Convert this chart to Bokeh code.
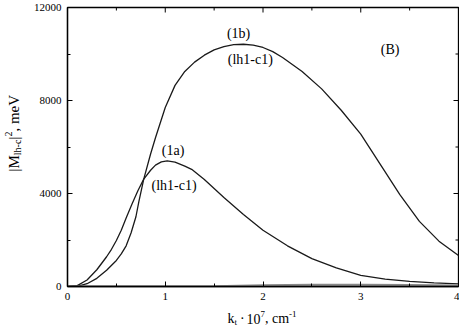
import math
from bokeh.plotting import figure
from bokeh.layouts import row, column
from bokeh.models import LinearAxis, Range1d, Label, FixedTicker
from bokeh.embed import file_html
from bokeh.resources import INLINE

# ---- data ----
x_1a = [0.0, 0.1, 0.2, 0.3, 0.4, 0.45, 0.5, 0.55, 0.6, 0.66, 0.72, 0.78, 0.85, 0.9, 0.96, 1.02, 1.1, 1.2, 1.27, 1.4, 1.6, 1.8, 2.0, 2.25, 2.5, 2.75, 3.0, 3.25, 3.5, 3.75, 4.0]
y_1a = [0, 40, 280, 720, 1280, 1600, 1980, 2420, 2950, 3550, 4120, 4620, 5000, 5220, 5360, 5400, 5350, 5180, 5040, 4600, 3830, 3100, 2420, 1750, 1200, 800, 480, 320, 220, 160, 110]

x_1b = [0.0, 0.1, 0.2, 0.3, 0.4, 0.5, 0.55, 0.6, 0.65, 0.7, 0.73, 0.78, 0.85, 0.9, 1.0, 1.1, 1.2, 1.3, 1.4, 1.5, 1.6, 1.7, 1.8, 1.9, 2.0, 2.1, 2.2, 2.4, 2.6, 2.8, 3.0, 3.2, 3.4, 3.6, 3.8, 4.0]
y_1b = [0, 10, 120, 350, 700, 1120, 1400, 1750, 2300, 3000, 3650, 4620, 5700, 6400, 7700, 8650, 9250, 9650, 9950, 10180, 10320, 10400, 10420, 10380, 10280, 10100, 9850, 9250, 8500, 7580, 6550, 5250, 3950, 2800, 1950, 1330]

x_c3 = [0.0, 1.0, 1.5, 2.0, 2.5, 3.0, 3.5, 4.0]
y_c3 = [0, 0, 10, 50, 80, 80, 60, 40]

x_ticks = [0, 1, 2, 3, 4]
x_minor = [0.5, 1.5, 2.5, 3.5]
y_ticks = [0, 4000, 8000, 12000]
y_minor = [2000, 6000, 10000]

FONT = "Liberation Serif"

YW = 30      # width of the y-title strip
MAIN_W = 429
MAIN_H = 308
XH = 20      # height of the x-title strip

p = figure(width=MAIN_W, height=MAIN_H, output_backend="svg", toolbar_location=None,
           x_range=Range1d(0, 4), y_range=Range1d(0, 12000),
           x_axis_type=None, y_axis_type=None,
           min_border_left=35, min_border_right=1, min_border_top=7, min_border_bottom=22)
p.grid.visible = False
p.outline_line_color = "black"
p.outline_line_width = 1.3
p.background_fill_color = "white"
p.border_fill_color = "white"


def style_axis(ax, ticks, minor):
    ax.ticker = FixedTicker(ticks=ticks, minor_ticks=minor)
    ax.axis_line_color = "black"
    ax.axis_line_width = 1.3
    ax.major_tick_in = 5
    ax.major_tick_out = 0
    ax.minor_tick_in = 3
    ax.minor_tick_out = 0
    ax.major_tick_line_color = "black"
    ax.minor_tick_line_color = "black"
    ax.major_label_text_font = FONT
    ax.major_label_text_font_size = "11px"
    ax.major_label_text_color = "black"
    ax.major_label_standoff = 6


xax = LinearAxis()
style_axis(xax, x_ticks, x_minor)
p.add_layout(xax, "below")
yax = LinearAxis()
style_axis(yax, y_ticks, y_minor)
p.add_layout(yax, "left")

# inner ticks on top and right edges (length in screen units)
p.ray(x=x_ticks, y=[12000] * len(x_ticks), length=5, length_units="screen",
      angle=-math.pi / 2, line_color="black", line_width=1)
p.ray(x=x_minor, y=[12000] * len(x_minor), length=3, length_units="screen",
      angle=-math.pi / 2, line_color="black", line_width=1)
p.ray(x=[4] * len(y_ticks), y=y_ticks, length=5, length_units="screen",
      angle=math.pi, line_color="black", line_width=1)
p.ray(x=[4] * len(y_minor), y=y_minor, length=3, length_units="screen",
      angle=math.pi, line_color="black", line_width=1)

p.line(x_1a, y_1a, line_color="#1a1a1a", line_width=1.3)
p.line(x_1b, y_1b, line_color="#1a1a1a", line_width=1.3)
p.line(x_c3, y_c3, line_color="#888888", line_width=2)

# curve annotations
for txt, xx, yy in [("(1b)", 1.75, 10886), ("(lh1-c1)", 1.87, 9771),
                    ("(1a)", 1.08, 5829), ("(lh1-c1)", 1.09, 4329), ("(B)", 3.30, 10200)]:
    p.add_layout(Label(x=xx, y=yy, text=txt, text_font=FONT, text_font_size="14px",
                       text_align="center", text_baseline="middle", text_color="black"))

# composed axis titles (Times metrics)
W = {'k': 500, 't': 278, '·': 250, ' ': 250, '1': 500, '0': 500, '7': 500, ',': 250,
     'c': 444, 'm': 778, '-': 333, '|': 200, 'M': 889, 'l': 278, 'h': 500, '2': 500,
     'e': 444, 'V': 722}


def width(s, size):
    return sum(W.get(ch, 500) for ch in s) * size / 1000.0


def strip(w, h):
    f = figure(width=w, height=h, output_backend="svg", toolbar_location=None,
               x_range=Range1d(0, w), y_range=Range1d(0, h),
               x_axis_type=None, y_axis_type=None, min_border=0)
    f.grid.visible = False
    f.outline_line_color = None
    f.background_fill_color = "white"
    f.border_fill_color = "white"
    return f


# y title strip: |M_{lh-c}|^2, meV  (rotated, reading upward)
yfig = strip(YW, MAIN_H)
ypieces = [("|M", 15, 0, 0), ("lh-c", 10, 4, 0), ("|", 15, 0, 0), ("2", 10, -5, 0), (", meV", 15, 0, 0)]
pos = MAIN_H - 193
for txt, size, shift, gap in ypieces:
    yfig.add_layout(Label(x=13 + shift, y=pos, x_units="screen", y_units="screen",
                          text=txt, text_font=FONT, text_font_size=f"{size}px",
                          angle=math.pi / 2, text_align="left", text_baseline="middle",
                          text_color="black"))
    pos += width(txt, size) + gap

# x title strip: k_t · 10^7, cm^-1
xfig = strip(YW + MAIN_W, XH)
xpieces = [("k", 14, 0, 0), ("t", 9, -3, 3), ("·", 14, 0, 3), ("10", 14, 0, 0),
           ("7", 9, 5, 0), (", cm", 14, 0, 0), ("-1", 9, 5, 0)]
total = sum(width(t, s) + g for t, s, _, g in xpieces)
pos = 65 + (458 - 65) / 2 - total / 2
for txt, size, shift, gap in xpieces:
    xfig.add_layout(Label(x=pos, y=10 + shift, x_units="screen", y_units="screen",
                          text=txt, text_font=FONT, text_font_size=f"{size}px",
                          text_align="left", text_baseline="middle", text_color="black"))
    pos += width(txt, size) + gap

layout = column(row(yfig, p, spacing=0), xfig, spacing=0)
open("out.html", "w").write(file_html(layout, INLINE))
